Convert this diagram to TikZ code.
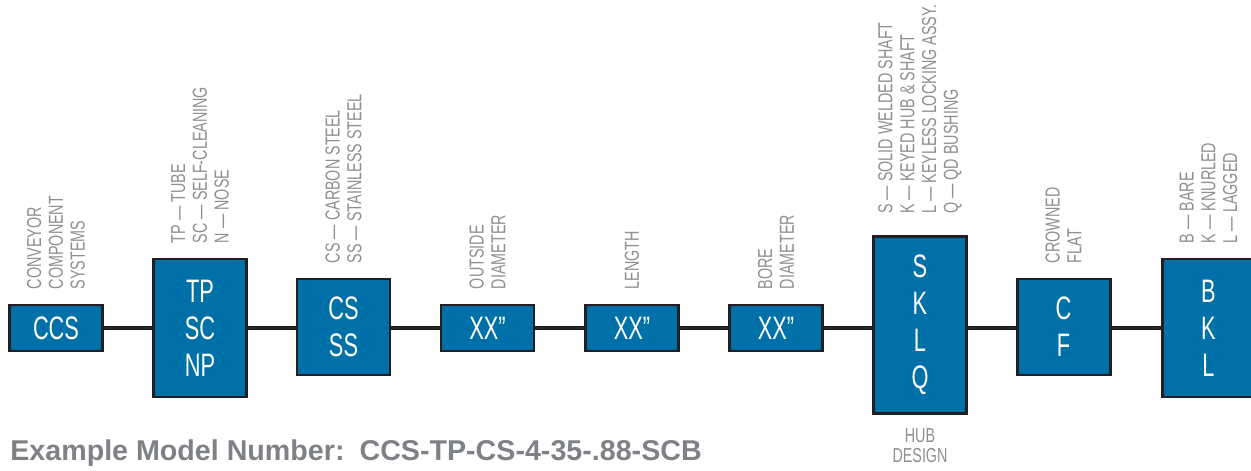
\documentclass[tikz,border=0pt]{standalone}
\usepackage{fontspec}
\setmainfont{Liberation Sans}
\newfontfamily\condfont{Liberation Sans}[FakeStretch=0.67]
\newfontfamily\notefont{Liberation Sans}[FakeStretch=0.71]
\usepackage{xcolor}
\definecolor{boxblue}{HTML}{0070A8}
\definecolor{edgedark}{HTML}{231F20}
\definecolor{labelgray}{HTML}{8C8F93}
\definecolor{notegray}{HTML}{7E8186}
\usepackage{tikz}
\usetikzlibrary{positioning, calc, backgrounds}

\begin{document}
\begin{tikzpicture}[
  part/.style={rectangle, draw=edgedark, line width=1.7pt, fill=boxblue,
               minimum width=1.86cm, inner sep=0pt, align=center, text=white,
               font=\condfont\fontsize{18.5}{21}\selectfont},
  small/.style={part, minimum height=0.92cm},
  mid/.style={part, minimum height=1.92cm},
  tall/.style={part, minimum height=2.76cm},
  spec/.style={rotate=90, anchor=west, align=left, inner sep=0pt, text=labelgray,
               font=\notefont\fontsize{11.5}{12.4}\selectfont},
  link/.style={line width=2.8pt, draw=edgedark},
]
  \useasboundingbox (0,0) rectangle (25.02,9.4);

  % Code boxes
  \node[small] (ccs) at (1.12, 2.84) {CCS};
  \node[tall] (tube) at (4.00, 2.84) {TP\\SC\\NP};
  \node[mid] (mat) at (6.87, 2.86) {CS\\SS};
  \node[small] (od) at (9.75, 2.84) {XX”};
  \node[small] (len) at (12.64, 2.84) {XX”};
  \node[small] (bore) at (15.52, 2.84) {XX”};
  \node[part, minimum height=3.54cm] (hub) at (18.40, 2.90) {S\\K\\L\\Q};
  \node[mid] (face) at (21.27, 2.86) {C\\F};
  \node[tall] (fin) at (24.17, 2.84) {B\\K\\L};

  % Option labels
  \node[spec] (ccslbl) at ([yshift=0.28cm]ccs.north) {CONVEYOR\\COMPONENT\\SYSTEMS};
  \node[spec] (tubelbl) at ([yshift=0.28cm]tube.north) {TP — TUBE\\SC — SELF-CLEANING\\N — NOSE};
  \node[spec] (matlbl) at ([yshift=0.28cm]mat.north) {CS — CARBON STEEL\\SS — STAINLESS STEEL};
  \node[spec] (odlbl) at ([yshift=0.28cm]od.north) {OUTSIDE\\DIAMETER};
  \node[spec] (lenlbl) at ([yshift=0.28cm]len.north) {LENGTH};
  \node[spec] (borelbl) at ([yshift=0.28cm]bore.north) {BORE\\DIAMETER};
  \node[spec] (hublbl) at ([yshift=0.42cm]hub.north) {S — SOLID WELDED SHAFT\\K — KEYED HUB \& SHAFT\\L — KEYLESS LOCKING ASSY.\\Q — QD BUSHING};
  \node[spec] (facelbl) at ([yshift=0.28cm]face.north) {CROWNED\\FLAT};
  \node[spec] (finlbl) at ([yshift=0.28cm]fin.north) {B — BARE\\K — KNURLED\\L — LAGGED};
  \node[anchor=north, align=center, inner sep=0pt, text=labelgray,
        font=\notefont\fontsize{11.5}{11.5}\selectfont]
    (hubname) at ([yshift=-0.26cm]hub.south) {HUB\\DESIGN};

  % Model number
  \node[anchor=base west, inner sep=0pt, text=notegray, font=\bfseries\fontsize{16.3}{19}\selectfont]
    (model) at (0.2, 0.2) {Example Model Number:\hspace{0.3cm}CCS-TP-CS-4-35-.88-SCB};

  % Connector
  \begin{scope}[on background layer]
    \draw[link] (ccs.east) -- (fin.west);
  \end{scope}
\end{tikzpicture}
\end{document}
